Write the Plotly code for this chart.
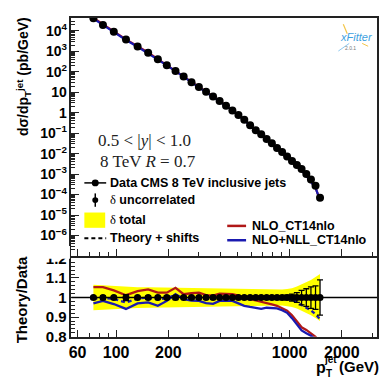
import plotly.graph_objects as go
import math

# ---------------- data ----------------
pt = [74, 84, 97, 114, 133, 153, 174, 196, 220, 245, 272, 300, 330, 362, 395, 430,
      468, 507, 548, 592, 638, 686, 737, 790, 846, 905, 967, 1032, 1101, 1172, 1248,
      1327, 1410, 1497]
xsec = [4.1e4, 1.95e4, 9.0e3, 3.8e3, 1.74e3, 850, 410, 209, 110, 59, 31, 18, 10.5, 6.2,
        3.7, 2.2, 1.3, 0.78, 0.45, 0.245, 0.14, 0.089, 0.052, 0.032, 0.019, 0.012,
        0.0073, 0.0044, 0.0028, 0.0018, 0.001, 5.5e-4, 2.7e-4, 7e-5]
ratio_nlo = [1.053, 1.053, 1.037, 1.012, 1.033, 1.042, 1.025, 1.025, 1.05, 1.017, 1.022,
             1.025, 1.012, 1.01, 1.02, 1.02, 1.017, 1.01, 1.0, 0.992, 0.985, 0.977, 0.97,
             0.965, 0.958, 0.945, 0.933, 0.91, 0.878, 0.848, 0.835, 0.815, 0.80, 0.77]
ratio_nll = [0.97, 0.983, 0.967, 0.942, 0.97, 0.975, 0.958, 0.983, 1.017, 0.992, 0.985,
             0.983, 0.972, 0.968, 0.983, 0.983, 0.983, 0.97, 0.958, 0.952, 0.948, 0.942,
             0.948, 0.948, 0.945, 0.935, 0.922, 0.895, 0.86, 0.832, 0.818, 0.805, 0.785, 0.76]
ratio_nll_shift = [0.995, 0.998, 0.993, 0.975, 0.995, 1.0, 0.99, 0.998, 1.012, 0.998, 0.998,
                   0.998, 0.995, 0.993, 1.0, 1.0, 1.0, 0.998, 0.995, 0.995, 0.995, 0.995,
                   1.0, 1.0, 1.0, 0.998, 0.995, 0.99, 0.975, 0.96, 0.948, 0.935, 0.915, 0.89]
unc_total = [0.065, 0.062, 0.058, 0.055, 0.053, 0.052, 0.051, 0.05, 0.05, 0.05, 0.049,
             0.048, 0.047, 0.046, 0.045, 0.045, 0.044, 0.043, 0.042, 0.042, 0.041, 0.04,
             0.039, 0.039, 0.039, 0.041, 0.044, 0.048, 0.056, 0.066, 0.078, 0.09, 0.105, 0.12]
unc_uncor = [0.006, 0.01, 0.006, 0.015, 0.006, 0.008, 0.006, 0.008, 0.01, 0.007, 0.006,
             0.006, 0.006, 0.006, 0.006, 0.006, 0.006, 0.006, 0.006, 0.006, 0.006, 0.007,
             0.007, 0.008, 0.009, 0.01, 0.012, 0.018, 0.025, 0.037, 0.045, 0.055, 0.06, 0.09]
ones = [1.0] * len(pt)

ytick_vals = [1e-6, 1e-5, 1e-4, 1e-3, 1e-2, 1e-1, 1, 10, 1e2, 1e3, 1e4]
ytick_text = ["10<sup>\u22126</sup>", "10<sup>\u22125</sup>", "10<sup>\u22124</sup>",
              "10<sup>\u22123</sup>", "10<sup>\u22122</sup>", "10<sup>\u22121</sup>",
              "1", "10", "10<sup>2</sup>", "10<sup>3</sup>", "10<sup>4</sup>"]
xtick_vals = [60, 100, 200, 1000, 2000]
xtick_text = ["60", "100", "200", "1000", "2000"]
rtick_vals = [0.8, 0.9, 1.0, 1.1, 1.2]
rtick_text = ["0.8", "0.9", "1", "1.1", "1.2"]

RED = "#b01818"
BLUE = "#1a1ab0"
YELLOW = "#ffff00"
SANS = "Liberation Sans"
SERIF = "Liberation Serif"

W = H = 382
def PX(v): return v / W
def PY(v): return 1 - v / H

th_nlo = [s * r for s, r in zip(xsec, ratio_nlo)]
th_nll = [s * r for s, r in zip(xsec, ratio_nll)]
band_hi = [1 + u for u in unc_total]
band_lo = [1 - u for u in unc_total]

fig = go.Figure()
# ---- top panel ----
fig.add_trace(go.Scatter(x=pt, y=th_nlo, mode="lines", line=dict(color=RED, width=2.2),
                         xaxis="x", yaxis="y"))
fig.add_trace(go.Scatter(x=pt, y=th_nll, mode="lines", line=dict(color=BLUE, width=2.2),
                         xaxis="x", yaxis="y"))
fig.add_trace(go.Scatter(x=pt, y=xsec, mode="markers", marker=dict(color="black", size=8),
                         xaxis="x", yaxis="y"))
# ---- ratio panel ----
fig.add_trace(go.Scatter(x=pt, y=band_lo, mode="lines", line=dict(width=0, color=YELLOW),
                         xaxis="x2", yaxis="y2"))
fig.add_trace(go.Scatter(x=pt, y=band_hi, mode="lines", line=dict(width=0, color=YELLOW),
                         fill="tonexty", fillcolor=YELLOW, xaxis="x2", yaxis="y2"))
fig.add_trace(go.Scatter(x=pt, y=ratio_nlo, mode="lines", line=dict(color=RED, width=2.3),
                         xaxis="x2", yaxis="y2"))
fig.add_trace(go.Scatter(x=pt, y=ratio_nll, mode="lines", line=dict(color=BLUE, width=2.3),
                         xaxis="x2", yaxis="y2"))
fig.add_trace(go.Scatter(x=pt, y=ratio_nll_shift, mode="lines",
                         line=dict(color=BLUE, width=2.3, dash="4px,3px"),
                         xaxis="x2", yaxis="y2"))
fig.add_trace(go.Scatter(x=pt, y=ones, mode="markers", marker=dict(color="black", size=7),
                         error_y=dict(type="data", array=unc_uncor, color="black",
                                      thickness=1.3, width=3),
                         xaxis="x2", yaxis="y2"))

xr = [math.log10(55.3), math.log10(3190)]
minor_x = [70, 80, 90, 300, 400, 500, 600, 700, 800, 900, 3000]
minor_y = [k * 10 ** e for e in range(-7, 5) for k in range(2, 10)]
axline = dict(showline=True, linecolor="#222", linewidth=1.5, mirror=True, showgrid=False,
              zeroline=False)

fig.update_layout(
    width=W, height=H, margin=dict(l=0, r=0, t=0, b=0),
    paper_bgcolor="white", plot_bgcolor="white", showlegend=False,
    xaxis=dict(type="log", range=xr, domain=[PX(69), PX(377)], anchor="y",
               showticklabels=False, ticks="inside", tickvals=xtick_vals, ticklen=7,
               tickcolor="#222", minor=dict(ticks="inside", ticklen=4, tickvals=minor_x,
                                            tickcolor="#222"), **axline),
    yaxis=dict(type="log", range=[-6.98, 4.65], domain=[PY(258), PY(9)], anchor="x",
               tickvals=ytick_vals, ticktext=ytick_text, ticks="inside", ticklen=8,
               tickcolor="#222",
               minor=dict(ticks="inside", ticklen=4, tickvals=minor_y, tickcolor="#222"),
               tickfont=dict(family=SANS, size=14, color="black", weight="bold"),
               **axline),
    xaxis2=dict(type="log", range=xr, domain=[PX(69), PX(377)], anchor="y2",
                tickvals=xtick_vals, ticktext=xtick_text, ticks="inside", ticklen=7,
                tickcolor="#222",
                minor=dict(ticks="inside", ticklen=4, tickvals=minor_x, tickcolor="#222"),
                tickfont=dict(family=SANS, size=16, color="black", weight="bold"),
                **axline),
    yaxis2=dict(range=[0.8, 1.2], domain=[PY(343), PY(261)], anchor="x2",
                tickvals=rtick_vals, ticktext=rtick_text, ticks="inside", ticklen=8,
                tickcolor="#222",
                minor=dict(ticks="inside", ticklen=4, dtick=0.02, tickcolor="#222"),
                tickfont=dict(family=SANS, size=15, color="black", weight="bold"),
                **axline),
)

shapes = []
# horizontal unity line in ratio panel
shapes.append(dict(type="line", xref="x2 domain", yref="y2", x0=0, x1=1, y0=1, y1=1,
                   line=dict(color="black", width=1.5), layer="above"))
# hide upper part of the cut "1.2" label (as in the reference, where the top pad covers it)
shapes.append(dict(type="rect", xref="paper", yref="paper", x0=PX(30), x1=PX(67.5),
                   y0=PY(261.5), y1=PY(248), fillcolor="white", line=dict(width=0),
                   layer="above"))
# legend symbols (left block)
shapes.append(dict(type="line", xref="paper", yref="paper", x0=PX(82), x1=PX(104),
                   y0=PY(182), y1=PY(182), line=dict(color="black", width=1.5)))
shapes.append(dict(type="circle", xref="paper", yref="paper", x0=PX(89.5), x1=PX(96.5),
                   y0=PY(185.5), y1=PY(178.5), fillcolor="black", line=dict(width=0)))
shapes.append(dict(type="line", xref="paper", yref="paper", x0=PX(93), x1=PX(93),
                   y0=PY(207), y1=PY(193), line=dict(color="black", width=1.5)))
shapes.append(dict(type="circle", xref="paper", yref="paper", x0=PX(90), x1=PX(96),
                   y0=PY(203), y1=PY(197), fillcolor="black", line=dict(width=0)))
shapes.append(dict(type="rect", xref="paper", yref="paper", x0=PX(82), x1=PX(103),
                   y0=PY(229), y1=PY(213), fillcolor=YELLOW, line=dict(width=0)))
shapes.append(dict(type="line", xref="paper", yref="paper", x0=PX(82), x1=PX(104),
                   y0=PY(240), y1=PY(240), line=dict(color="black", width=2, dash="4px,3px")))
# legend symbols (right block)
shapes.append(dict(type="line", xref="paper", yref="paper", x0=PX(226), x1=PX(245),
                   y0=PY(227), y1=PY(227), line=dict(color=RED, width=2.5)))
shapes.append(dict(type="line", xref="paper", yref="paper", x0=PX(226), x1=PX(245),
                   y0=PY(242), y1=PY(242), line=dict(color=BLUE, width=2.5)))
# xFitter logo decorations
shapes.append(dict(type="line", xref="paper", yref="paper", x0=PX(343), x1=PX(347),
                   y0=PY(16), y1=PY(26), line=dict(color="#f3c64a", width=1.2)))
shapes.append(dict(type="line", xref="paper", yref="paper", x0=PX(338), x1=PX(349),
                   y0=PY(44), y1=PY(36), line=dict(color="#8cc8f0", width=1)))
shapes.append(dict(type="line", xref="paper", yref="paper", x0=PX(362), x1=PX(368),
                   y0=PY(36), y1=PY(39), line=dict(color="#f3c64a", width=1)))
fig.update_layout(shapes=shapes)

def ann(text, x, y, size, xanchor="left", yanchor="middle", family=SANS, bold=True,
        color="black", angle=0):
    return dict(text=text, xref="paper", yref="paper", x=PX(x), y=PY(y), showarrow=False,
                xanchor=xanchor, yanchor=yanchor, textangle=angle,
                font=dict(family=family, size=size, color=color,
                          weight="bold" if bold else "normal"))

dspan = "<span style='font-family:Liberation Serif;font-weight:normal'>\u03b4</span>"
anns = [
    ann("d\u03c3/dp<sub>T</sub><sup>jet</sup> (pb/GeV)", 21, 6, 14, xanchor="center",
        yanchor="top", angle=-90),
    ann("Theory/Data", 19, 304, 15, xanchor="center", angle=-90),
    ann("p", 313, 375, 16, xanchor="left"),
    ann("jet", 322, 366.5, 10, xanchor="left"),
    ann("T", 323.5, 381, 10, xanchor="left"),
    ann("(GeV)", 381, 374, 15, xanchor="right"),
    ann("0.5 &lt; |<i>y</i>| &lt; 1.0", 94, 138, 17, family=SERIF, bold=False,
        color="#222"),
    ann("8 TeV <i>R</i> = 0.7", 96, 160, 17, family=SERIF, bold=False, color="#222"),
    ann("Data CMS 8 TeV inclusive jets", 106, 182, 12.5),
    ann(dspan + " uncorrelated", 106, 200, 12.5),
    ann(dspan + " total", 106, 221, 12.5),
    ann("Theory + shifts", 106, 240, 12.5),
    ann("NLO_CT14nlo", 249, 227, 12.5),
    ann("NLO+NLL_CT14nlo", 249, 242, 12.5),
    ann("<i>xFitter</i>", 356, 29, 11, xanchor="center", bold=False, color="#3d9fe0"),
    ann("2.0.1", 350, 41, 5, xanchor="center", bold=False, color="#777"),
]
fig.update_layout(annotations=anns)

fig.write_html("out.html")
